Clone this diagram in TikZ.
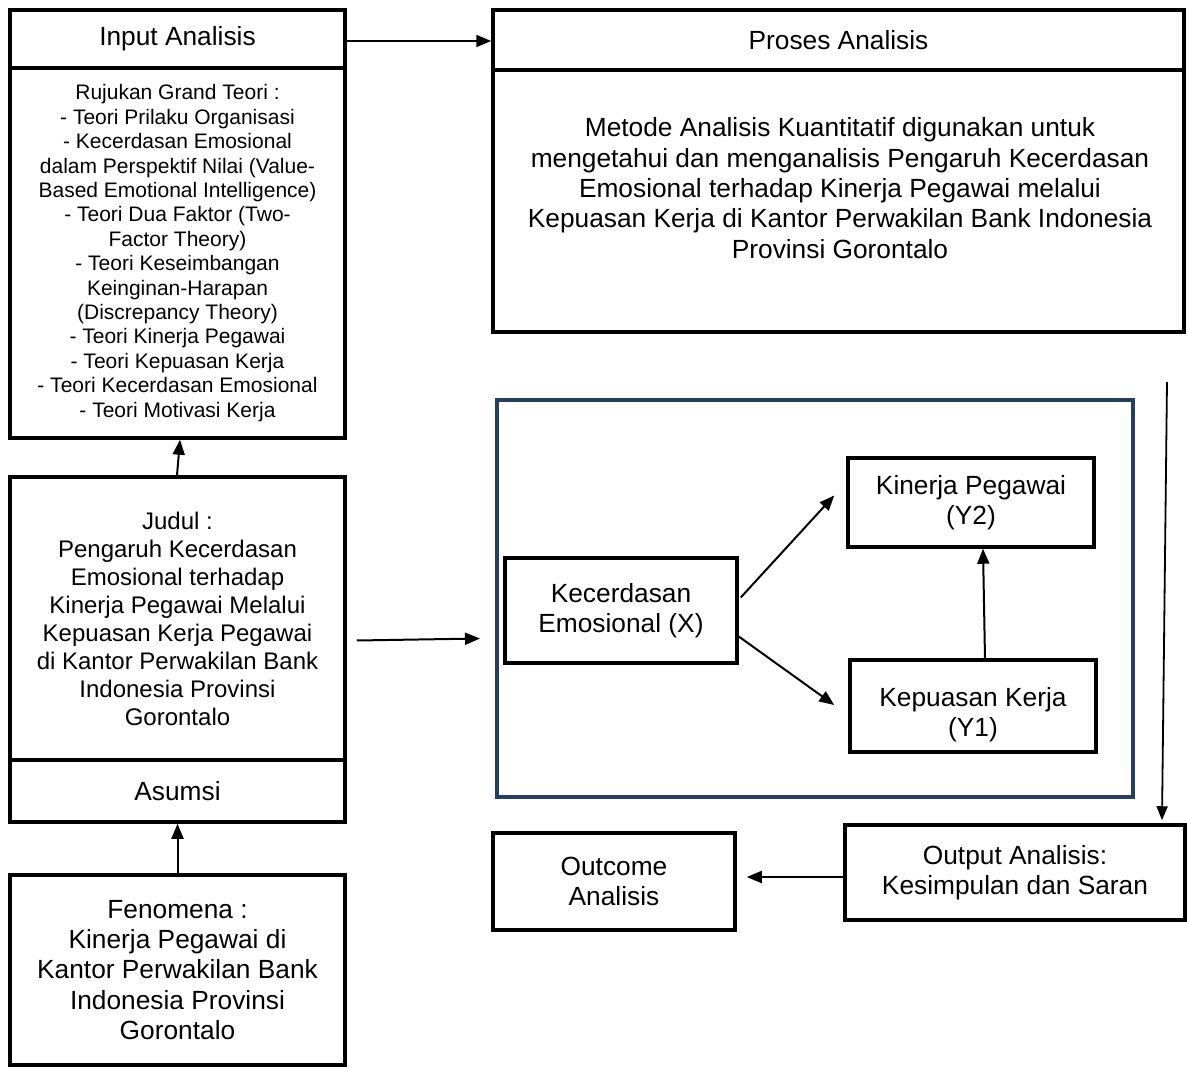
\documentclass[tikz,border=0pt]{standalone}
\usepackage{fontspec}
\setmainfont{Liberation Sans}
\usetikzlibrary{arrows.meta}
\definecolor{navy}{HTML}{243F60}
\tikzset{
  box/.style={draw=black, line width=3.5pt, fill=white, inner sep=0pt, align=center, font=\fontsize{26.3}{30.3}\selectfont},
  arr/.style={draw=black, line width=2pt, -{Triangle[length=15pt,width=12pt]}},
  thinarr/.style={draw=black, line width=1.8pt, -{Triangle[length=14pt,width=11pt]}},
  txt/.style={inner sep=0pt, align=center, font=\fontsize{26.3}{30.3}\selectfont}
}
\begin{document}
\begin{tikzpicture}[x=1pt,y=-1pt]
\useasboundingbox (0,0) rectangle (1187,1068);
% left column
\node[box, minimum width=335pt, minimum height=58pt] (inhead) at (177.5,39) {Input Analisis};
\node[box, minimum width=335pt, minimum height=370pt, font=\fontsize{21}{24.4}\selectfont] (inbody) at (177.5,253) {Rujukan Grand Teori :\\- Teori Prilaku Organisasi\\- Kecerdasan Emosional\\dalam Perspektif Nilai (Value-\\Based Emotional Intelligence)\\- Teori Dua Faktor (Two-\\Factor Theory)\\- Teori Keseimbangan\\Keinginan-Harapan\\(Discrepancy Theory)\\- Teori Kinerja Pegawai\\- Teori Kepuasan Kerja\\- Teori Kecerdasan Emosional\\- Teori Motivasi Kerja};
\node[box, minimum width=335pt, minimum height=283pt, font=\fontsize{24}{28}\selectfont] (judul) at (177.5,618.5) {Judul :\\Pengaruh Kecerdasan\\Emosional terhadap\\Kinerja Pegawai Melalui\\Kepuasan Kerja Pegawai\\di Kantor Perwakilan Bank\\Indonesia Provinsi\\Gorontalo};
\node[box, minimum width=335pt, minimum height=62pt] (asumsi) at (177.5,791) {Asumsi};
\node[box, minimum width=335pt, minimum height=190pt] (fenomena) at (177.5,970) {Fenomena :\\Kinerja Pegawai di\\Kantor Perwakilan Bank\\Indonesia Provinsi\\Gorontalo};
% process
\node[box, minimum width=691pt, minimum height=60pt] (prhead) at (838.5,40) {Proses Analisis};
\node[box, minimum width=691pt, minimum height=262pt] (prbody) at (838.5,201) {};
\node[txt] (prtext) at (840,188) {Metode Analisis Kuantitatif digunakan untuk\\mengetahui dan menganalisis Pengaruh Kecerdasan\\Emosional terhadap Kinerja Pegawai melalui\\Kepuasan Kerja di Kantor Perwakilan Bank Indonesia\\Provinsi Gorontalo};
% model
\node[draw=navy, line width=4pt, minimum width=636pt, minimum height=397pt, inner sep=0pt] (model) at (815,598.5) {};
\node[box, minimum width=232pt, minimum height=105pt] (X) at (621,610.5) {Kecerdasan\\Emosional (X)};
\node[box, minimum width=246pt, minimum height=89pt] (Y2) at (971,502.5) {Kinerja Pegawai\\(Y2)};
\node[box, minimum width=246pt, minimum height=92pt] (Y1) at (973,706) {};
\node[txt] (Y1text) at (973,715) {Kepuasan Kerja\\(Y1)};
% outputs
\node[box, minimum width=340pt, minimum height=95pt] (output) at (1015,872.5) {Output Analisis:\\Kesimpulan dan Saran};
\node[box, minimum width=242pt, minimum height=97pt] (outcome) at (614,881.5) {Outcome\\Analisis};
\coordinate (rtop) at (1167,382);
% connectors
\draw[arr] ([yshift=-2pt]inhead.east) -- ([yshift=-2pt]inhead.east -| prhead.west);
\draw[arr] ([xshift=-0.5pt]judul.north) -- ([xshift=2.5pt]inbody.south);
\draw[arr] (fenomena.north) -- (asumsi.south);
\draw[arr] ([xshift=10pt,yshift=-22pt]judul.east) -- ([xshift=-15pt,yshift=-40pt]model.west);
\draw[arr] ([xshift=2pt,yshift=13pt]X.east) -- ([xshift=-12pt,yshift=7pt]Y2.west);
\draw[arr] ([yshift=-26pt]X.east) -- ([xshift=-14pt,yshift=1pt]Y1.west);
\draw[arr] ([xshift=12pt]Y1.north) -- ([xshift=12pt]Y2.south);
\draw[thinarr] (rtop) -- ([xshift=147pt,yshift=3pt]output.north);
\draw[arr] ([yshift=-4.5pt]output.west) -- ([xshift=10pt,yshift=4.5pt]outcome.east);
\end{tikzpicture}
\end{document}
